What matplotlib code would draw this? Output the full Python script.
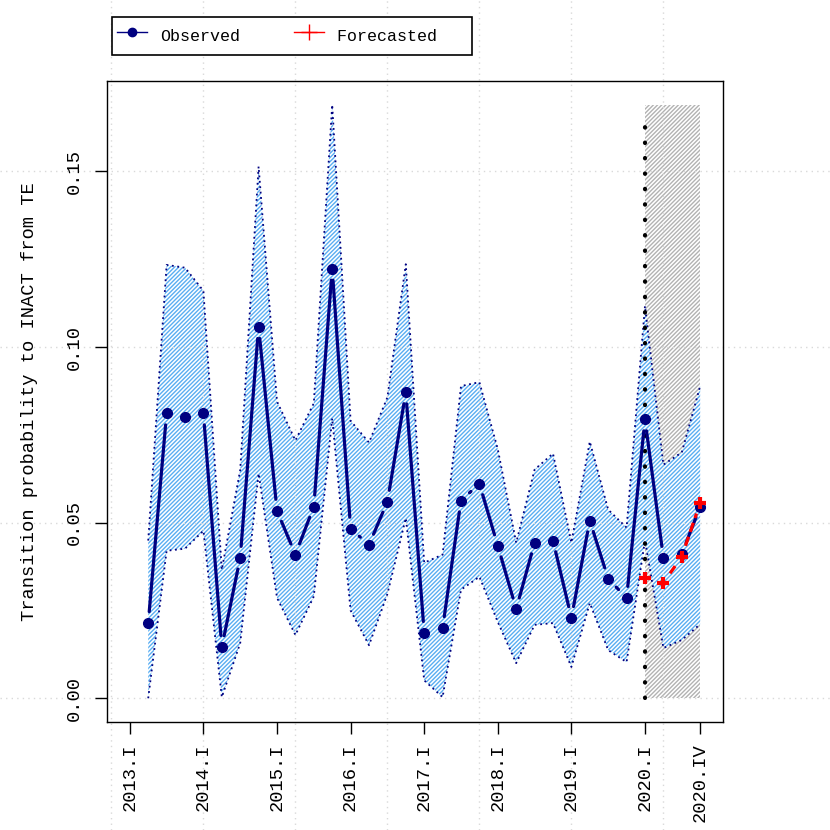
import numpy as np
import matplotlib
matplotlib.use('Agg')
import matplotlib.pyplot as plt
import matplotlib.transforms as mtransforms
from matplotlib.lines import Line2D

# quarter index: 1 = 2013.I ... 32 = 2020.IV
quarters = list(range(2, 33))
observed = [0.0214, 0.0811, 0.0800, 0.0811, 0.0146, 0.0400, 0.1057, 0.0534,
            0.0409, 0.0546, 0.1223, 0.0483, 0.0437, 0.0560, 0.0871, 0.0186,
            0.0200, 0.0563, 0.0611, 0.0434, 0.0254, 0.0443, 0.0449, 0.0229,
            0.0506, 0.0340, 0.0286, 0.0794, 0.0400, 0.0411, 0.0546]
upper = [0.0449, 0.1234, 0.1226, 0.1160, 0.0366, 0.0650, 0.1514, 0.0845,
         0.0734, 0.0840, 0.1690, 0.0790, 0.0728, 0.0857, 0.1236, 0.0386,
         0.0409, 0.0889, 0.0900, 0.0709, 0.0443, 0.0651, 0.0697, 0.0443,
         0.0731, 0.0537, 0.0486, 0.1117, 0.0665, 0.0700, 0.0889]
lower = [0.0000, 0.0420, 0.0426, 0.0477, 0.0003, 0.0157, 0.0640, 0.0286,
         0.0180, 0.0290, 0.0797, 0.0250, 0.0151, 0.0297, 0.0513, 0.0051,
         0.0003, 0.0309, 0.0346, 0.0217, 0.0100, 0.0209, 0.0214, 0.0089,
         0.0271, 0.0137, 0.0103, 0.0450, 0.0143, 0.0166, 0.0211]
fc_quarters = [29, 30, 31, 32]
forecast = [0.0343, 0.0329, 0.0403, 0.0557]

tick_pos = [1, 5, 9, 13, 17, 21, 25, 29, 32]
tick_labels = ['2013.I', '2014.I', '2015.I', '2016.I', '2017.I', '2018.I',
               '2019.I', '2020.I', '2020.IV']
y_ticks = [0.00, 0.05, 0.10, 0.15]
grid_x = [0, 5, 10, 15, 20, 25, 30]
forecast_start = 29
vline_top = 0.165

FONT = 'Liberation Mono'
plt.rcParams['font.family'] = [FONT, 'DejaVu Sans']
plt.rcParams['hatch.linewidth'] = 1.0


def gapped(ax, x, y, gap, **kw):
    # R type="b": segments stop short of the points
    pts = ax.transData.transform(np.column_stack([x, y]))
    inv = ax.transData.inverted()
    for p, q in zip(pts[:-1], pts[1:]):
        d = q - p
        L = np.hypot(*d)
        if L <= 2 * gap:
            continue
        u = d / L
        a = inv.transform(p + u * gap)
        b = inv.transform(q - u * gap)
        ax.plot([a[0], b[0]], [a[1], b[1]], **kw)


fig = plt.figure(figsize=(8.3, 8.3), dpi=100)
ax = fig.add_axes([107 / 830, 1 - 722 / 830, 616 / 830, 641 / 830])
ax.patch.set_visible(False)

xr = (1, 32)
pad = (xr[1] - xr[0]) * 0.04
ax.set_xlim(xr[0] - pad, xr[1] + pad)
ymin, ymax = min(lower), max(upper)
ypad = (ymax - ymin) * 0.04
ax.set_ylim(ymin - ypad, ymax + ypad)

# forecast window
ax.fill_between([forecast_start, fc_quarters[-1]], 0, ymax, facecolor='none',
                edgecolor='#b2b2b2', hatch='////////', linewidth=0, zorder=1)
# confidence band
ax.fill_between(quarters, lower, upper, facecolor='white',
                edgecolor='#5aaef2', hatch='////////', linewidth=0, zorder=1.2)
ax.plot(quarters, upper, color='navy', lw=1.3, linestyle=(0, (1, 2)), zorder=2)
ax.plot(quarters, lower, color='navy', lw=1.3, linestyle=(0, (1, 2)), zorder=2)

# grid spanning the whole figure
bx = mtransforms.blended_transform_factory(ax.transData, fig.transFigure)
by = mtransforms.blended_transform_factory(fig.transFigure, ax.transData)
for g in grid_x:
    ax.plot([g, g], [0, 1], transform=bx, clip_on=False, color='#d9d9d9',
            lw=1, linestyle=(0, (1, 3)), zorder=1.5)
for g in y_ticks:
    ax.plot([0, 1], [g, g], transform=by, clip_on=False, color='#d9d9d9',
            lw=1, linestyle=(0, (1, 3)), zorder=1.5)

ax.plot([forecast_start, forecast_start], [0, vline_top], color='black', lw=3,
        linestyle=(0, (0.1, 3.6)), dash_capstyle='round', zorder=3)

gapped(ax, quarters, observed, 11.5, color='navy', lw=2.3,
       solid_capstyle='round', zorder=4)
ax.plot(quarters, observed, 'o', color='navy', ms=7, zorder=4)

gapped(ax, fc_quarters, forecast, 11.5, color='red', lw=2.3,
       linestyle=(0, (3, 1.6)), zorder=5)
ax.plot(fc_quarters, forecast, '+', color='red', ms=9, mew=3, zorder=5)

ax.set_xticks(tick_pos)
ax.set_xticklabels(tick_labels, rotation=90, fontsize=13.5)
ax.set_yticks(y_ticks)
ax.set_yticklabels(['%.2f' % v for v in y_ticks], rotation=90, va='center',
                   fontsize=13.5)
ax.tick_params(length=8.5, width=1, pad=7)
ax.tick_params(axis='y', pad=9)
ax.set_ylabel('Transition probability to INACT from TE', fontsize=13.5)
ax.yaxis.set_label_coords(-(107 - 29) / 616, 0.5)
ax.yaxis.label.set_va('center')
for s in ax.spines.values():
    s.set_linewidth(1)

handles = [Line2D([], [], color='navy', lw=1, marker='o', ms=6),
           Line2D([], [], color='red', lw=1, marker='+', ms=12, mew=1)]
leg = fig.legend(handles, ['Observed', 'Forecasted   '], loc='upper left',
                 bbox_to_anchor=(112 / 830, 1 - 17 / 830), ncol=2,
                 prop={'family': FONT, 'size': 12}, frameon=True,
                 fancybox=False, edgecolor='black', framealpha=1,
                 borderaxespad=0, borderpad=0.3, handlelength=1.8,
                 handleheight=2.2, handletextpad=0.8, columnspacing=3.2)
leg.get_frame().set_linewidth(1.2)

fig.savefig('out.png', dpi=100)
